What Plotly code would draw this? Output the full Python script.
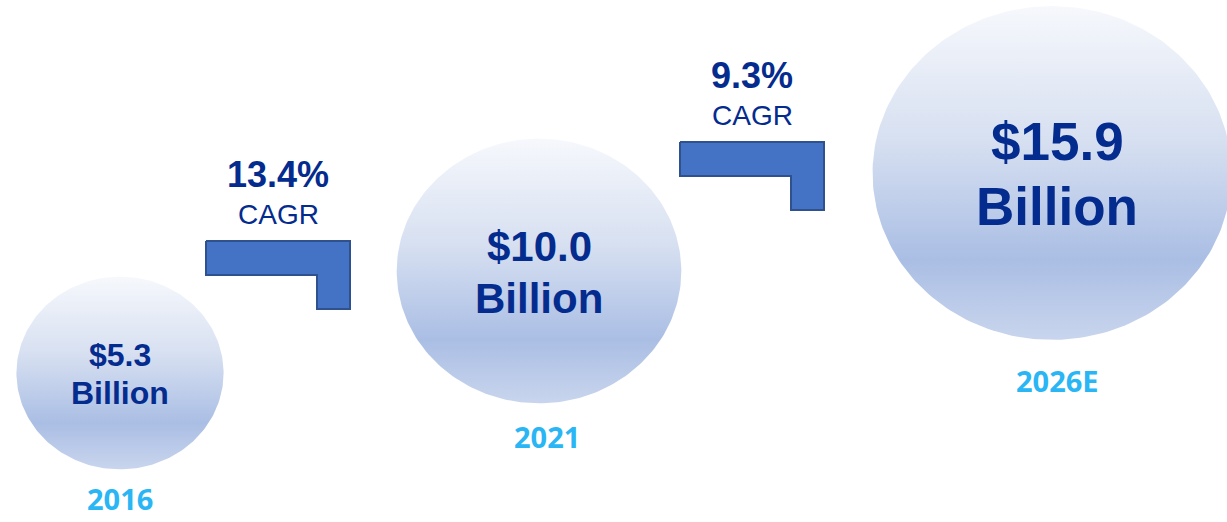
import numpy as np
import plotly.graph_objects as go

# ---- data ----
years = ["2016", "2021", "2026E"]
market_values = [5.3, 10.0, 15.9]          # $ Billion
value_labels = ["$5.3", "$10.0", "$15.9"]
cagr_labels = ["13.4%", "9.3%"]

# ---- layout helpers (pixel-like coordinate system) ----
W, H = 1227, 522
centers = [(120, 373), (539, 271), (1052, 173)]
text_dx = [0, 0, 5]
year_dx = [0, 8, 5]
K = 45.0          # radius scale: area proportional to value
ASPECT = 0.93
text_sizes = [32, 42, 53]
line_gap = [38, 52, 65]
year_offsets = [147, 187, 229]   # bottom of the year label box below circle centre
arrow_origins = [(206, 241), (680, 142)]
arrow_w, arrow_h, stem_w, bar_h = 144, 68, 33, 34

NAVY = "#042B8E"
YEAR_BLUE = "#2AB6F4"
grad = [[0.0, "#F6F8FC"], [0.4, "#D7E0F1"], [0.76, "#AABEE4"], [1.0, "#C9D5ED"]]

fig = go.Figure()
t = np.linspace(0, 2 * np.pi, 241)
annotations = []
for i, (v, yr, lab) in enumerate(zip(market_values, years, value_labels)):
    cx, cy = centers[i]
    rx = K * np.sqrt(v)
    ry = rx * ASPECT
    xs = cx + rx * np.cos(t)
    ys = cy + ry * np.sin(t)
    fig.add_trace(go.Scatter(
        x=xs, y=ys, mode="lines", fill="toself",
        line=dict(width=0, color="rgba(0,0,0,0)"),
        fillgradient=dict(type="vertical", colorscale=grad,
                          start=cy - ry, stop=cy + ry),
        hoverinfo="skip", showlegend=False))
    fs = text_sizes[i]
    tx = cx + text_dx[i]
    annotations.append(dict(x=tx, y=cy - line_gap[i] / 2 + 1, text=f"<b>{lab}</b>",
                            font=dict(family="Liberation Sans, Arial", size=fs, color=NAVY),
                            showarrow=False, xanchor="center", yanchor="middle"))
    annotations.append(dict(x=tx, y=cy + line_gap[i] / 2 + 1, text="<b>Billion</b>",
                            font=dict(family="Liberation Sans, Arial", size=fs, color=NAVY),
                            showarrow=False, xanchor="center", yanchor="middle"))
    annotations.append(dict(x=cx + year_dx[i], y=min(cy + year_offsets[i], H - 1),
                            text=f"<b>{yr}</b>",
                            font=dict(family="Open Sans", size=29, color=YEAR_BLUE),
                            showarrow=False, xanchor="center", yanchor="bottom"))

# bent arrows with CAGR labels
for (ax, ay), cg in zip(arrow_origins, cagr_labels):
    px = [ax, ax + arrow_w, ax + arrow_w, ax + arrow_w - stem_w, ax + arrow_w - stem_w, ax, ax]
    py = [ay, ay, ay + arrow_h, ay + arrow_h, ay + bar_h, ay + bar_h, ay]
    fig.add_trace(go.Scatter(x=px, y=py, mode="lines", fill="toself",
                             fillcolor="#4472C4", line=dict(color="#2F528F", width=2),
                             hoverinfo="skip", showlegend=False))
    mx = ax + 72
    annotations.append(dict(x=mx, y=ay - 67, text=f"<b>{cg}</b>",
                            font=dict(family="Liberation Sans, Arial", size=36, color=NAVY),
                            showarrow=False, xanchor="center", yanchor="middle"))
    annotations.append(dict(x=mx, y=ay - 27, text="CAGR",
                            font=dict(family="Liberation Sans, Arial", size=28, color=NAVY),
                            showarrow=False, xanchor="center", yanchor="middle"))

fig.update_layout(
    width=W, height=H, margin=dict(l=0, r=0, t=0, b=0),
    paper_bgcolor="white", plot_bgcolor="white",
    xaxis=dict(range=[0, W], visible=False, fixedrange=True),
    yaxis=dict(range=[H, 0], visible=False, fixedrange=True),
    annotations=annotations,
)
fig.write_html("out.html", config={"displayModeBar": False},
               post_script="document.body.style.margin='0';document.body.style.overflow='hidden';")
